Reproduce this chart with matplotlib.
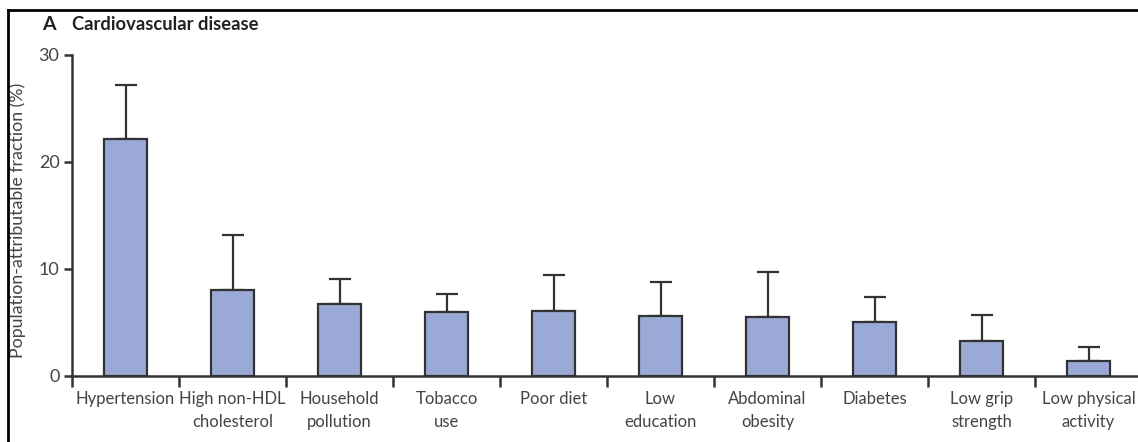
import matplotlib
matplotlib.use("Agg")
import matplotlib.pyplot as plt
from matplotlib.lines import Line2D
import numpy as np

plt.rcParams["font.family"] = ["Lato", "DejaVu Sans"]

categories = [
    "Hypertension", "High non-HDL\ncholesterol", "Household\npollution",
    "Tobacco\nuse", "Poor diet", "Low\neducation", "Abdominal\nobesity",
    "Diabetes", "Low grip\nstrength", "Low physical\nactivity",
]
paf = [22.1, 8.0, 6.7, 5.9, 6.0, 5.6, 5.5, 5.0, 3.2, 1.35]
upper_ci = [27.2, 13.1, 9.0, 7.6, 9.4, 8.7, 9.7, 7.3, 5.7, 2.65]
y_ticks = [0, 10, 20, 30]

W, H = 1138, 442
fig = plt.figure(figsize=(W / 100, H / 100), dpi=100)
ax = fig.add_axes([72 / W, 66.5 / H, (W - 72) / W, 320.8 / H])

x = np.arange(len(categories))
bar_color = "#9aa9d5"
ink = "#333333"
text_color = "#444444"
err = [np.zeros(len(paf)), np.array(upper_ci) - np.array(paf)]

ax.bar(x, paf, width=0.4, color=bar_color, edgecolor=ink, linewidth=1.6, zorder=2)
ax.errorbar(x, paf, yerr=err, fmt="none", ecolor=ink, elinewidth=1.6,
            capsize=8, capthick=1.6, zorder=1)

ax.set_xlim(-0.5, (W - 125.5) / 107)
ax.set_ylim(0, 30)
ax.set_yticks(y_ticks)
ax.set_yticklabels([str(t) for t in y_ticks])
ax.set_xticks(np.arange(len(categories)) - 0.5)
ax.set_xticklabels([])
ax.tick_params(axis="x", direction="out", length=8, width=1.8, color=ink)
ax.tick_params(axis="y", direction="out", length=6, width=1.8, color=ink,
               labelsize=13, labelcolor=text_color, pad=3)

for xi, lab in zip(x, categories):
    ax.text(xi, -1.45, lab, ha="center", va="top", fontsize=12,
            color=text_color, linespacing=1.5)

for side in ("top", "right"):
    ax.spines[side].set_visible(False)
for side in ("left", "bottom"):
    ax.spines[side].set_linewidth(1.8)
    ax.spines[side].set_color(ink)

ax.set_ylabel("Population-attributable fraction (%)", fontsize=12.8,
              color=text_color)
ax.yaxis.set_label_coords(-46 / (W - 72), 0.485)

fig.text(42 / W, 1 - 24 / H, "A", fontsize=14, fontweight="bold",
         color="#222222", va="center", ha="left")
fig.text(72 / W, 1 - 24 / H, "Cardiovascular disease", fontsize=13.2,
         fontweight="bold", color="#222222", va="center", ha="left")

# outer panel frame
fig.add_artist(Line2D([8 / W, 8 / W], [0, 1 - 10 / H], transform=fig.transFigure,
                      color="black", linewidth=2))
fig.add_artist(Line2D([8 / W, 1], [1 - 10 / H, 1 - 10 / H], transform=fig.transFigure,
                      color="black", linewidth=2))

fig.savefig("out.png", dpi=100)
